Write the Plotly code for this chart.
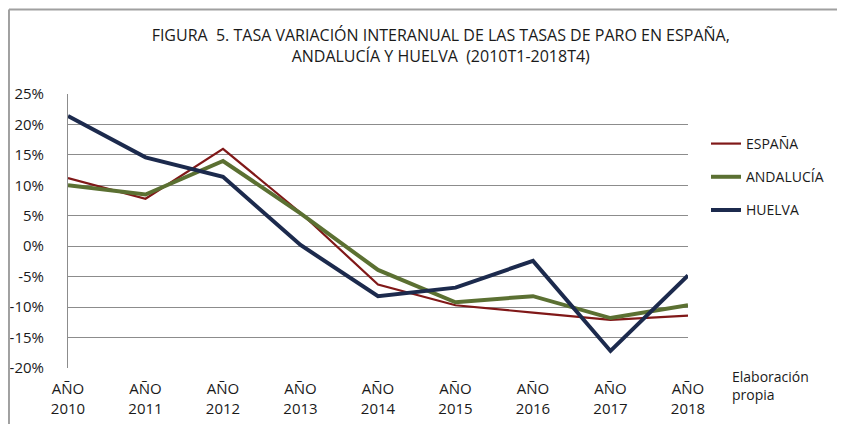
import plotly.graph_objects as go

years = ["2010", "2011", "2012", "2013", "2014", "2015", "2016", "2017", "2018"]
x_labels = ["AÑO<br>" + y for y in years]

espana = [11.2, 7.8, 16.0, 5.5, -6.3, -9.7, -10.9, -12.1, -11.4]
andalucia = [10.0, 8.5, 14.0, 5.4, -3.9, -9.2, -8.2, -11.8, -9.7]
huelva = [21.4, 14.6, 11.4, 0.2, -8.2, -6.8, -2.4, -17.2, -4.8]

y_ticks = [-20, -15, -10, -5, 0, 5, 10, 15, 20, 25]
y_tick_labels = [f"{v}%" for v in y_ticks]

series = [
    ("ESPAÑA", espana, "#801818", 2.2),
    ("ANDALUCÍA", andalucia, "#5B7032", 4),
    ("HUELVA", huelva, "#1C2A4D", 4),
]

FONT = "'Open Sans', Lato, sans-serif"

fig = go.Figure()
for i, (name, vals, color, w) in enumerate(series):
    fig.add_trace(go.Scatter(
        x=list(range(len(years))), y=vals, mode="lines", name=name,
        line=dict(color=color, width=w), legendgroup=f"g{i}",
    ))

# page body has an 8px margin, so the figure is 8px smaller than the window
fig.update_layout(
    width=837, height=416,
    margin=dict(l=60, r=157, t=86, b=56),
    paper_bgcolor="white", plot_bgcolor="white",
    font=dict(family=FONT, size=14, color="#1a1a1a"),
    title=dict(
        text="FIGURA  5. TASA VARIACIÓN INTERANUAL DE LAS TASAS DE PARO EN ESPAÑA,<br>ANDALUCÍA Y HUELVA  (2010T1-2018T4)",
        x=0.517, xanchor="center", y=0.92, yanchor="top",
        font=dict(family=FONT, size=16, color="#1a1a1a"),
    ),
    xaxis=dict(
        range=[0, 8], tickmode="array", tickvals=list(range(len(years))),
        ticktext=x_labels, showgrid=False, zeroline=False, showline=False,
        ticks="", tickfont=dict(size=15), automargin=False,
        ticklabelstandoff=10,
    ),
    yaxis=dict(
        range=[-20, 25], tickmode="array", tickvals=y_ticks,
        ticktext=y_tick_labels,
        showgrid=True, gridcolor="#8c8c8c", gridwidth=1,
        zeroline=False, showline=True, linecolor="#8c8c8c", linewidth=1,
        ticks="", tickfont=dict(size=15), ticklabelstandoff=20,
        automargin=False,
    ),
    legend=dict(
        x=1.029, xanchor="left", y=0.876, yanchor="top",
        font=dict(size=14), tracegroupgap=12, bgcolor="rgba(0,0,0,0)",
    ),
    showlegend=True,
    annotations=[dict(
        text="Elaboración<br>propia", xref="paper", yref="paper",
        x=1.0684, y=0.01, xanchor="left", yanchor="top", showarrow=False,
        align="left", font=dict(size=14),
    )],
    shapes=[
        dict(type="line", xref="paper", yref="paper", x0=-0.0952, x1=1.3,
             y0=1.308, y1=1.308, line=dict(color="#a0a0a0", width=2)),
        dict(type="line", xref="paper", yref="paper", x0=-0.0952, x1=-0.0952,
             y0=1.308, y1=-0.25, line=dict(color="#a0a0a0", width=2)),
    ],
)

fig.write_html("out.html")
